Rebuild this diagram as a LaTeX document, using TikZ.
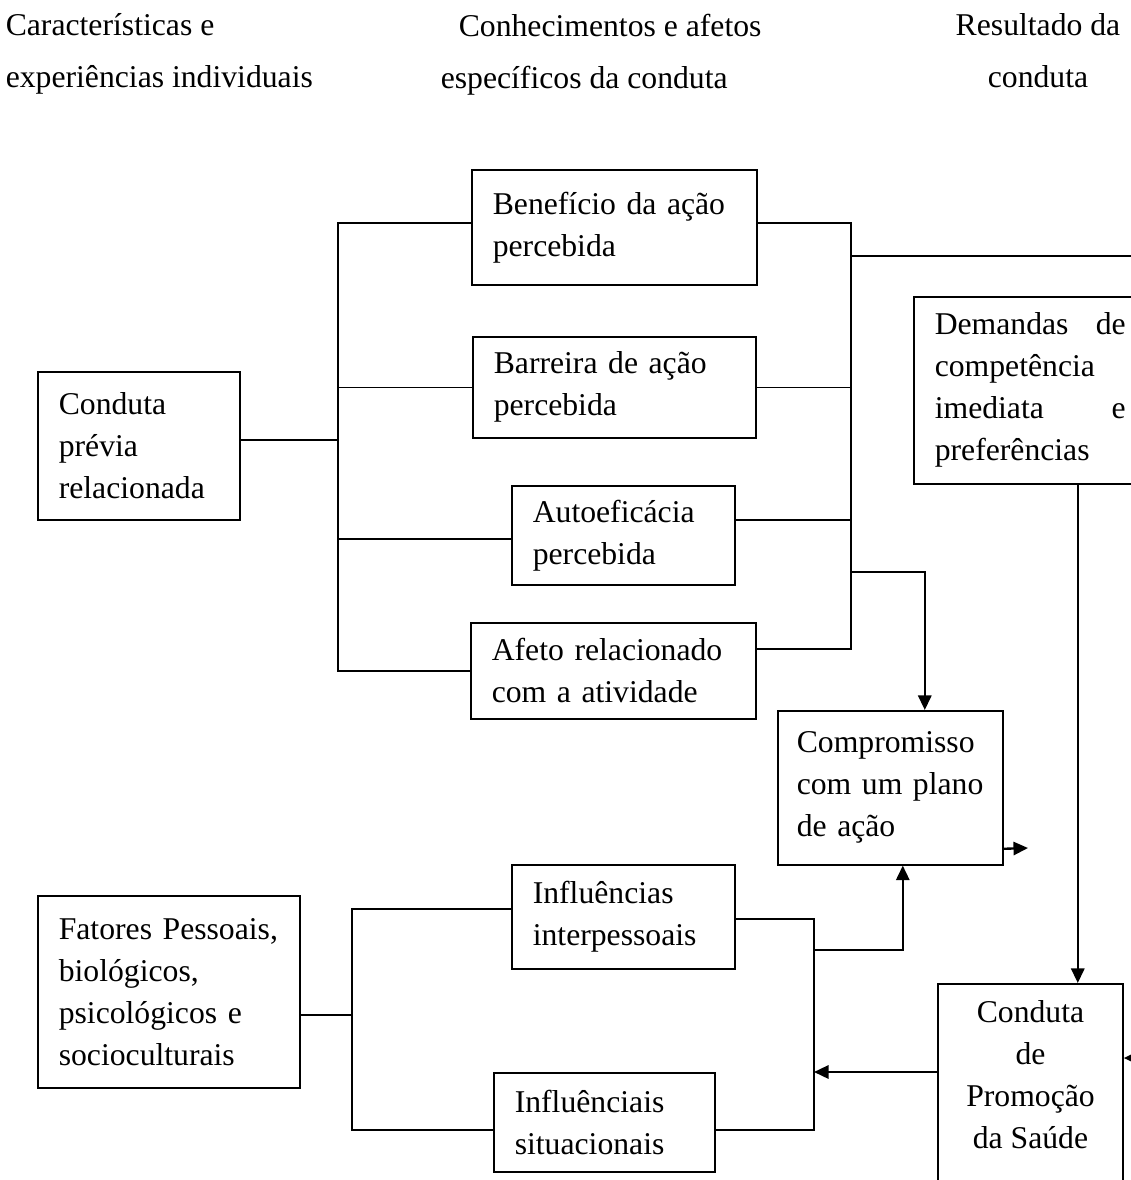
\documentclass[tikz,border=0pt]{standalone}
\usepackage{fontspec}
\setmainfont{Liberation Serif}
\usetikzlibrary{arrows.meta,positioning}
\newdimen\pxl
\pxl=0.3787pt

\begin{document}
\begin{tikzpicture}[x=\pxl, y=-\pxl, line width=0.6pt,
    box/.style={draw, anchor=north west, align=left, inner xsep=21\pxl, inner ysep=0pt,
                font=\fontsize{12}{15.9}\selectfont},
    hd/.style={anchor=north west, align=left, inner sep=0pt,
               font=\fontsize{12}{19.7}\selectfont},
    arr/.style={-{Triangle[length=5.5pt,width=5pt]}, line width=0.9pt}]
\useasboundingbox (0,0) rectangle (1131,1180);

% column headings
\node[hd] (hdA) at (5,13) {Características e\\experiências individuais};
\node[hd] (hdB) at (440,13) {\hspace*{18\pxl}Conhecimentos e afetos\\específicos da conduta};
\node[hd, anchor=north, align=center] (hdC) at (1038,13) {Resultado da\\conduta};

% boxes
\node[box, text width=160\pxl, minimum height=148\pxl] (prev) at (37,371) {Conduta\\prévia\\relacionada};
\node[box, text width=243\pxl, minimum height=115\pxl] (ben) at (471,169) {Benefício da ação\\percebida};
\node[box, text width=241\pxl, minimum height=101\pxl] (bar) at (472,336) {Barreira de ação\\percebida};
\node[box, text width=181\pxl, minimum height=99\pxl] (aut) at (511,485) {Autoeficácia\\percebida};
\node[box, text width=243\pxl, minimum height=96\pxl] (aff) at (470,622) {Afeto relacionado\\com a atividade};
\node[box, text width=191\pxl, minimum height=187\pxl] (dem) at (913,296) {Demandas\hfill de\\competência\\imediata\hfill e\\preferências};
\node[box, inner xsep=19\pxl, text width=187\pxl, minimum height=154\pxl] (com) at (777,710) {Compromisso\\com um plano\\de ação};
\node[box, text width=220\pxl, minimum height=192\pxl] (fat) at (37,895) {Fatores Pessoais,\\biológicos,\\psicológicos e\\socioculturais};
\node[box, text width=181\pxl, minimum height=104\pxl] (inf) at (511,864) {Influências\\interpessoais};
\node[box, text width=179\pxl, minimum height=99\pxl] (sit) at (493,1072) {Influênciais\\situacionais};
\node[draw, anchor=north, minimum width=185\pxl, minimum height=240\pxl] (cps) at (1030.5,983) {};
\node[below=17\pxl of cps.north, align=center, inner sep=0pt,
      font=\fontsize{12}{15.9}\selectfont] (cpstxt) {Conduta\\de\\Promoção\\da Saúde};

% bus lines
\coordinate (lbus) at (338,0);
\coordinate (rbus) at (851,0);
\coordinate (fbus) at (352,0);
\coordinate (ibus) at (814,0);
\coordinate (outR) at (1140,256);
\coordinate (cmIn) at (851,572);
\coordinate (cmOut) at (1028,848);
\coordinate (inUp) at (814,950);
\coordinate (fbk) at (814,1072);
\coordinate (inR) at (1140,1058);

\draw ([yshift=6\pxl]prev.east) -- ([yshift=6\pxl]prev.east -| lbus);
\draw ([yshift=4.5\pxl]ben.west) -| (aff.west -| lbus) -- (aff.west);
\draw (bar.west) -- (bar.west -| lbus);
\draw ([yshift=-3.5\pxl]aut.west) -- ([yshift=-3.5\pxl]aut.west -| lbus);

\draw ([yshift=4.5\pxl]ben.east) -| ([yshift=22\pxl]aff.east -| rbus) -- ([yshift=22\pxl]aff.east);
\draw (bar.east) -- (bar.east -| rbus);
\draw ([yshift=15.5\pxl]aut.east) -- ([yshift=15.5\pxl]aut.east -| rbus);
\draw (rbus |- outR) -- (outR);
\draw[arr] (cmIn) -| ([xshift=34.5\pxl]com.north);
\draw[arr] ([yshift=-61\pxl]com.east) -- (cmOut);
\draw[arr] ([xshift=47.5\pxl]dem.south) -- ([xshift=47.5\pxl]dem.south |- cps.north);

\draw ([yshift=-23\pxl]fat.east) -- ([yshift=-23\pxl]fat.east -| fbus);
\draw ([yshift=8\pxl]inf.west) -| ([yshift=-7.5\pxl]sit.west -| fbus) -- ([yshift=-7.5\pxl]sit.west);
\draw ([yshift=-2\pxl]inf.east) -| ([yshift=-7.5\pxl]sit.east -| ibus) -- ([yshift=-7.5\pxl]sit.east);
\draw[arr] (inUp) -| ([xshift=12.5\pxl]com.south);
\draw[arr] (fbk -| cps.west) -- (fbk);
\draw[arr] (inR) -- (inR -| cps.east);
\end{tikzpicture}
\end{document}
